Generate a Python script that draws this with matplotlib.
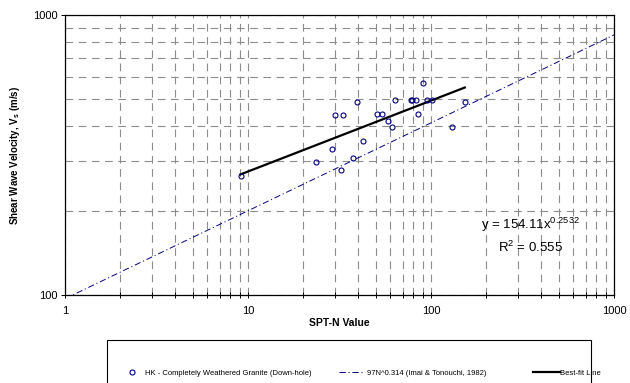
import numpy as np
import matplotlib
matplotlib.use("Agg")
import matplotlib.pyplot as plt
from matplotlib.lines import Line2D
from matplotlib.patches import Rectangle
from matplotlib.ticker import FixedLocator, FixedFormatter, LogLocator, NullFormatter

plt.rcParams["font.family"] = ["Liberation Sans", "DejaVu Sans"]
plt.rcParams["mathtext.fontset"] = "custom"
plt.rcParams["mathtext.rm"] = "Liberation Sans"
plt.rcParams["mathtext.bf"] = "Liberation Sans:bold"
plt.rcParams["lines.scale_dashes"] = False

# data
spt_n = [9.1, 23.6, 28.9, 32.1, 29.9, 33.2, 37.3, 39.3, 42.5, 50.9, 54.2, 58.4,
         61.0, 63.6, 77.8, 79.0, 82.8, 84.6, 90.1, 95.5, 101.6, 131.0, 153.0]
vs = [265, 298, 331, 280, 439, 439, 309, 488, 355, 443, 443, 418,
      399, 497, 497, 497, 497, 443, 570, 497, 497, 399, 488]

fit_a, fit_b = 154.11, 0.2532
imai_a, imai_b = 97, 0.314

x_ticks = [1, 10, 100, 1000]
x_labels = ["1", "10", "100", "1000"]
y_ticks = [100, 1000]
y_labels = ["100", "1000"]

navy = "#000080"
grid_c = "#8c8c8c"

fig = plt.figure(figsize=(6.3, 3.83), dpi=100)
ax = fig.add_axes([65 / 630, 1 - 295 / 383, 549 / 630, 280 / 383])
ax.set_xscale("log")
ax.set_yscale("log")
ax.set_xlim(1, 1000)
ax.set_ylim(100, 1000)

# gridlines (major + minor, dashed grey)
ax.xaxis.set_major_locator(FixedLocator(x_ticks))
ax.xaxis.set_major_formatter(FixedFormatter(x_labels))
ax.xaxis.set_minor_locator(LogLocator(base=10, subs=np.arange(2, 10)))
ax.xaxis.set_minor_formatter(NullFormatter())
ax.yaxis.set_major_locator(FixedLocator(y_ticks))
ax.yaxis.set_major_formatter(FixedFormatter(y_labels))
ax.yaxis.set_minor_locator(LogLocator(base=10, subs=np.arange(2, 10)))
ax.yaxis.set_minor_formatter(NullFormatter())
ax.grid(True, which="both", color=grid_c, lw=0.8, ls=(0, (5.5, 4)))

ax.tick_params(axis="x", which="both", direction="inout", length=4, width=0.7,
               labelsize=8, pad=6)
ax.tick_params(axis="y", which="major", direction="out", length=3, width=0.7,
               labelsize=8, pad=2)
ax.tick_params(axis="y", which="minor", length=0)
for s in ax.spines.values():
    s.set_linewidth(0.9)
    s.set_color("black")

# Imai & Tonouchi line
nn = np.logspace(0, 3, 200)
ax.plot(nn, imai_a * nn ** imai_b, color=navy, lw=0.7,
        ls=(0, (4.5, 2, 0.8, 2)), zorder=3)

# best-fit line over data range
xf = np.array([min(spt_n), max(spt_n)])
ax.plot(xf, fit_a * xf ** fit_b, color="black", lw=1.6, zorder=4)

ax.plot(spt_n, vs, ls="none", marker="o", ms=3.6, mfc="none", mec=navy,
        mew=0.8, zorder=5)

ax.text(0.847, 0.25, r"y = 154.11x$^{0.2532}$", transform=ax.transAxes,
        ha="center", va="center", fontsize=9.5)
ax.text(0.847, 0.171, r"R$^2$ = 0.555", transform=ax.transAxes,
        ha="center", va="center", fontsize=9.5)

ax.set_xlabel("SPT-N Value", fontsize=7.5, fontweight="bold", labelpad=1)
ax.set_ylabel(r"Shear Wave Velocity, V$_\mathbf{s}$ (m/s)", fontsize=7,
              fontweight="bold")
ax.yaxis.set_label_coords(-0.078, 0.5)

# legend box running off the bottom
fig.patches.append(Rectangle((107 / 630, -0.05), (591 - 107) / 630,
                             1 - 340 / 383 + 0.05, transform=fig.transFigure,
                             fill=False, ec="black", lw=0.8))

ly = 1 - 373 / 383
h1 = Line2D([], [], ls="none", marker="o", ms=3.6, mfc="none", mec=navy, mew=0.8)
h2 = Line2D([], [], color=navy, lw=0.7, ls=(0, (4.5, 2, 0.8, 2)))
h3 = Line2D([], [], color="black", lw=1.6)
for h, lab, x0, hl, tp in [
        (h1, "HK - Completely Weathered Granite (Down-hole)", 128, 1.0, 1.2),
        (h2, "97N^0.314 (Imai & Tonouchi, 1982)", 339, 3.4, 0.25),
        (h3, "Best-fit Line", 533, 3.55, 0.05)]:
    fig.legend([h], [lab], loc="center left", bbox_to_anchor=(x0 / 630, ly),
               frameon=False, fontsize=5.5, handlelength=hl, handletextpad=tp,
               borderpad=0, borderaxespad=0)

fig.savefig("out.png", dpi=100)
